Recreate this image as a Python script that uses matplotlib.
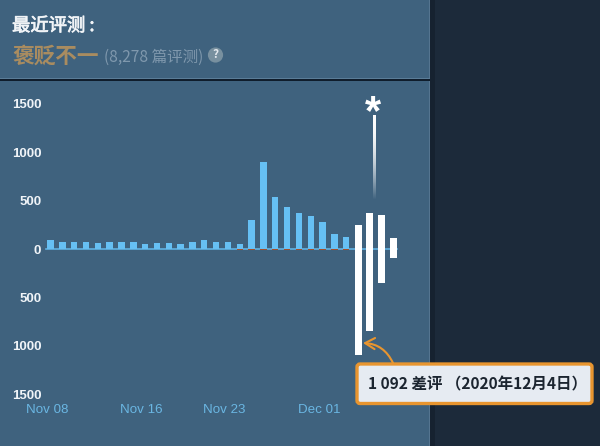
import numpy as np
import matplotlib
matplotlib.use("Agg")
import matplotlib.pyplot as plt
import matplotlib.patheffects as pe
from matplotlib.patches import FancyBboxPatch, Rectangle, Circle

plt.rcParams['font.family'] = ['Noto Sans CJK SC', 'DejaVu Sans']

PANEL = "#3f627e"
DARK = "#1c2a3a"
BLUE = "#66c0f4"
ORANGE = "#e8952f"

# daily review counts
pos_days = list(range(26))
pos_values = [95, 75, 75, 75, 65, 75, 75, 75, 50, 65, 65, 50, 75,
              93, 70, 76, 55, 298, 895, 537, 436, 374, 346, 277, 156, 128]
neg_small = [0, 0, 0, 0, 0, 0, 0, 0, 0, 0, 0, 0, 0,
             0, 0, 0, 8, 12, 14, 14, 14, 12, 14, 12, 12, 14]
white_days = [26, 27, 28, 29]
white_up = [250, 370, 353, 110]
white_down = [1092, 850, 355, 90]
spike_day = 27.4
spike_top = 1375
spike_bottom = 505

y_ticks = [-1500, -1000, -500, 0, 500, 1000, 1500]
y_labels = ["1500", "1000", "500", "0", "500", "1000", "1500"]
x_ticks = [0, 8, 15, 23]
x_labels = ["Nov 08", "Nov 16", "Nov 23", "Dec 01"]

fig = plt.figure(figsize=(6, 4.46), dpi=100, facecolor=DARK)

# overlay in pixel coords for the page furniture
bg = fig.add_axes([0, 0, 1, 1], zorder=0)
bg.set_xlim(0, 600)
bg.set_ylim(446, 0)
bg.axis("off")
bg.add_patch(Rectangle((0, 0), 430, 446, color=PANEL, lw=0))
bg.add_patch(Rectangle((428.5, 0), 1.5, 446, color="#557590", lw=0))
bg.add_patch(Rectangle((430, 0), 5, 446, color="#162230", lw=0))
bg.add_patch(Rectangle((0, 79), 430, 1.6, color="#0f1d2c", lw=0))
bg.add_patch(Rectangle((0, 77.6), 430, 1.4, color="#5a7c97", lw=0))

thick = [pe.withStroke(linewidth=0.5, foreground="#f2f5f8")]
bg.text(12, 26, "最近评测 :", color="#f2f5f8", fontsize=13.2, va="center", ha="left", path_effects=thick)
bg.text(12, 56, "褒贬不一", color="#a98c60", fontsize=15.6, fontweight="bold", va="center", ha="left")
bg.text(104, 57.5, "(8,278 篇评测)", color="#7f98ad", fontsize=11.2, va="center", ha="left")
bg.add_patch(Circle((215.5, 55), 7.6, color="#78909f", lw=0))
bg.text(215.5, 54.5, "?", color="#e4e9ee", fontsize=8.5, fontweight="bold", va="center", ha="center")

# chart axes, placed so one day is 11.83 px and 1000 reviews 96.7 px
left, right, top, bottom = 44, 402, 90, 400
ax = fig.add_axes([left / 600, 1 - bottom / 446, (right - left) / 600, (bottom - top) / 446], zorder=1)
ax.patch.set_alpha(0)
for s in ax.spines.values():
    s.set_visible(False)
ax.set_xlim((left - 50.5) / 11.83, (right - 50.5) / 11.83)
ax.set_ylim((249 - bottom) / 0.0967, (249 - top) / 0.0967)

ax.bar(pos_days, pos_values, width=0.54, color=BLUE, linewidth=0, zorder=2)
ax.bar(pos_days, [-v for v in neg_small], width=0.54, color="#a3502c", linewidth=0, zorder=2)
ax.plot([-0.4, 29.3], [0, 0], color=BLUE, lw=1.2, alpha=0.85, zorder=1)
ax.bar(white_days, white_up, width=0.6, color="white", linewidth=0, zorder=3)
ax.bar(white_days, [-v for v in white_down], width=0.6, color="white", linewidth=0, zorder=3)

# fading spike above the tallest white bar
fade = np.ones((100, 1, 4))
fade[:, :, 3] = 1 - np.linspace(0, 1, 100)[:, None] ** 2
ax.imshow(fade, extent=[spike_day - 0.11, spike_day + 0.11, spike_bottom, spike_top],
          aspect="auto", zorder=3, interpolation="bilinear")
ax.set_xlim((left - 50.5) / 11.83, (right - 50.5) / 11.83)
ax.set_ylim((249 - bottom) / 0.0967, (249 - top) / 0.0967)

ax.set_yticks(y_ticks)
ax.set_yticklabels(y_labels, family="Liberation Sans", fontweight="bold", fontsize=9.5, color="#f0f4f8")
ax.set_xticks(x_ticks)
ax.set_xticklabels(x_labels, family="Liberation Sans", fontsize=9.6, color="#6ab6e2")
ax.tick_params(axis="y", length=0, pad=2)
ax.tick_params(axis="x", length=0, pad=2.8)
for lab in ax.get_xticklabels():
    lab.set_transform(lab.get_transform() + matplotlib.transforms.ScaledTranslation(-3.5 / 100, 0, fig.dpi_scale_trans))

# star and callout sit on top of everything
over = fig.add_axes([0, 0, 1, 1], zorder=2)
over.set_xlim(0, 600)
over.set_ylim(446, 0)
over.axis("off")
over.text(373, 113, "*", color="white", fontsize=30, fontweight="bold", family="Liberation Sans", va="center", ha="center")
over.add_patch(FancyBboxPatch((357, 364), 235, 39.5, boxstyle="round,pad=0,rounding_size=3",
                              fc="#e6ebf2", ec=ORANGE, lw=2.4))
over.text(368, 384, "1 092 差评 （2020年12月4日）", color="#1c2530", fontsize=11.2, fontweight="bold",
          va="center", ha="left")
over.annotate("", xy=(363, 343), xytext=(393, 363),
              arrowprops=dict(arrowstyle="->,head_length=0.7,head_width=0.4", color=ORANGE, lw=1.5,
                              connectionstyle="arc3,rad=0.3", shrinkA=0, shrinkB=0))

fig.savefig("out.png", dpi=100, facecolor=DARK)
